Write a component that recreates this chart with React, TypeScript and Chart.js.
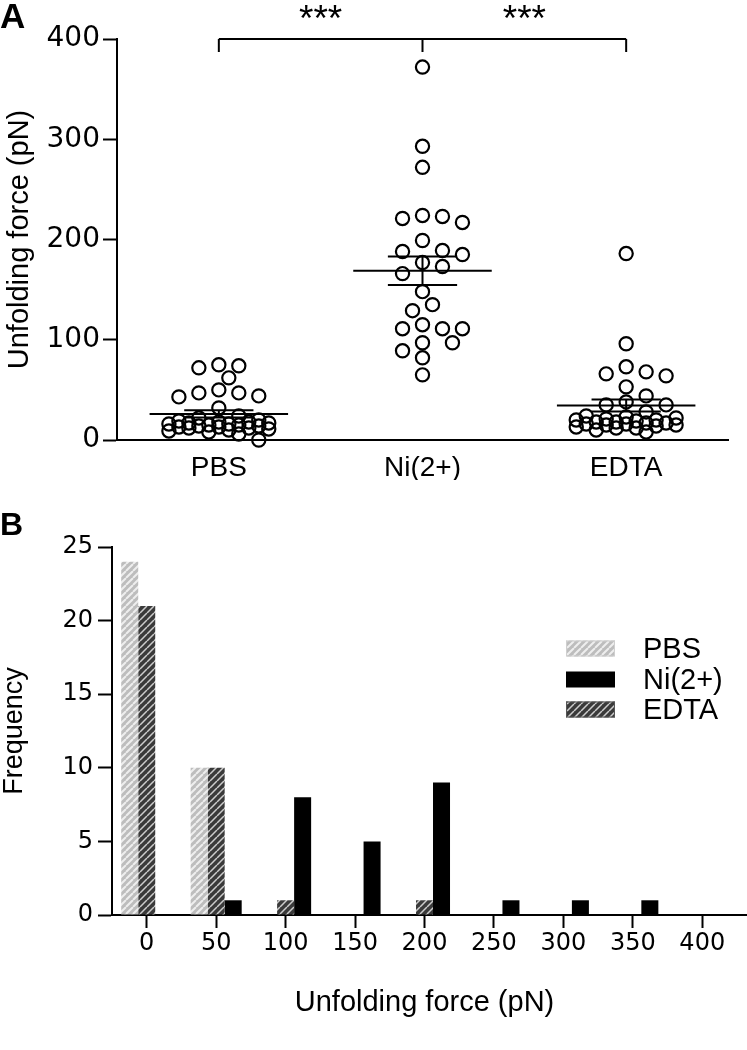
import React, { useEffect, useRef } from "react";
import { Chart, registerables } from "chart.js";
Chart.register(...registerables);

// ---------- data ----------
const groupLabels = ["PBS", "Ni(2+)", "EDTA"];
const pbsForces = [74, 72, 75, 62, 50, 47, 43, 44, 47, 32, 0, 6, 8, 9, 10, 11, 12, 12, 13, 13, 14, 14, 15, 15, 16, 16, 17, 17, 18, 18, 19, 20, 22, 24];
const niForces = [372, 293, 272, 224, 223, 221, 217, 199, 189, 188, 185, 177, 173, 166, 148, 135, 129, 115, 111, 111, 111, 97, 97, 89, 82, 65];
const edtaForces = [186, 96, 73, 68, 66, 64, 53, 44, 38, 35, 35, 28, 24, 23, 22, 21, 20, 20, 19, 18, 18, 17, 17, 16, 16, 15, 15, 14, 13, 12, 12, 10, 8];
const forceTicks = [0, 100, 200, 300, 400];
const sigLabel = "***";

const binLabels = ["0", "50", "100", "150", "200", "250", "300", "350", "400"];
const pbsFreq = [24, 10, 0, 0, 0, 0, 0, 0, 0];
const edtaFreq = [21, 10, 1, 0, 1, 0, 0, 0, 0];
const niFreq = [0, 1, 8, 5, 9, 1, 1, 1, 0];
const legendOrder = ["PBS", "Ni(2+)", "EDTA"];

// ---------- styling ----------
const TXT = "'Liberation Sans', Arial, sans-serif";
const DIG = "'DejaVu Sans', sans-serif";
Chart.defaults.color = "#000";

function mean(a: number[]) {
  return a.reduce((s, v) => s + v, 0) / a.length;
}
function sem(a: number[]) {
  const m = mean(a);
  const sd = Math.sqrt(a.reduce((s, v) => s + (v - m) * (v - m), 0) / (a.length - 1));
  return sd / Math.sqrt(a.length);
}

// greedy beeswarm layout computed from the values
function swarm(values: number[], center: number) {
  const PX_X = 204, PX_Y = 1.0, STEP = 10, D = 15, MAXK = 5;
  const order = values.map((_, i) => i).sort((a, b) => values[b] - values[a]);
  const placed: { k: number; v: number }[] = [];
  const res: { x: number; y: number }[] = new Array(values.length);
  const cands = [0];
  for (let k = 1; k <= MAXK; k++) cands.push(k, -k);
  for (const i of order) {
    const v = values[i];
    let best = 0, bestD = -1;
    for (const k of cands) {
      let minD = Infinity;
      for (const p of placed) {
        const d = Math.hypot((p.k - k) * STEP, (p.v - v) * PX_Y);
        if (d < minD) minD = d;
      }
      if (minD >= D) { best = k; break; }
      if (minD > bestD) { bestD = minD; best = k; }
    }
    placed.push({ k: best, v });
    res[i] = { x: center + (best * STEP) / PX_X, y: v };
  }
  return res;
}

function makeHatch(ctx: CanvasRenderingContext2D, base: string, stripe: string, lw: number) {
  const c = document.createElement("canvas");
  const s = 7;
  c.width = s; c.height = s;
  const g = c.getContext("2d")!;
  g.fillStyle = base;
  g.fillRect(0, 0, s, s);
  g.strokeStyle = stripe;
  g.lineWidth = lw;
  g.beginPath();
  for (const o of [-s, 0, s]) { g.moveTo(o, s); g.lineTo(o + s, 0); }
  g.stroke();
  return ctx.createPattern(c, "repeat")!;
}

const groups = [pbsForces, niForces, edtaForces];

const extrasA = {
  id: "extrasA",
  afterDraw(chart: any) {
    const { ctx } = chart;
    const x = chart.scales.x, y = chart.scales.y;
    ctx.save();
    ctx.strokeStyle = "#000";
    ctx.lineWidth = 2;
    const seg = (x1: number, y1: number, x2: number, y2: number) => {
      ctx.beginPath(); ctx.moveTo(x1, y1); ctx.lineTo(x2, y2); ctx.stroke();
    };
    groups.forEach((vals, i) => {
      const c = i + 1;
      const m = mean(vals), se = sem(vals);
      const ym = y.getPixelForValue(m), yu = y.getPixelForValue(m + se), yl = y.getPixelForValue(m - se);
      seg(x.getPixelForValue(c - 0.34), ym, x.getPixelForValue(c + 0.34), ym);
      seg(x.getPixelForValue(c - 0.17), yu, x.getPixelForValue(c + 0.17), yu);
      seg(x.getPixelForValue(c - 0.17), yl, x.getPixelForValue(c + 0.17), yl);
      seg(x.getPixelForValue(c), yu, x.getPixelForValue(c), yl);
    });
    // significance bracket
    const yb = y.getPixelForValue(400);
    seg(x.getPixelForValue(1), yb, x.getPixelForValue(3), yb);
    [1, 2, 3].forEach((c) => seg(x.getPixelForValue(c), yb, x.getPixelForValue(c), yb + 13));
    ctx.fillStyle = "#000";
    ctx.font = `37px ${TXT}`;
    ctx.textAlign = "center";
    ctx.textBaseline = "alphabetic";
    ctx.fillText(sigLabel, x.getPixelForValue(1.5), 31);
    ctx.fillText(sigLabel, x.getPixelForValue(2.5), 31);
    // panel letter
    ctx.textAlign = "left";
    ctx.font = `bold 35px ${TXT}`;
    ctx.fillText("A", 0, 28);
    ctx.restore();
  },
};

function makeExtrasB(hLight: CanvasPattern, hDark: CanvasPattern) {
  return {
    id: "extrasB",
    afterDraw(chart: any) {
      const { ctx } = chart;
      const x = chart.scales.x;
      ctx.save();
      ctx.strokeStyle = "#000";
      ctx.lineWidth = 2;
      const yAxis = Math.round(x.top);
      ctx.beginPath(); ctx.moveTo(x.right - 1, yAxis); ctx.lineTo(747, yAxis); ctx.stroke();
      // legend
      const styles: Record<string, { fill: any; stroke?: string }> = {
        "PBS": { fill: hLight, stroke: "#cfcfcf" },
        "Ni(2+)": { fill: "#000" },
        "EDTA": { fill: hDark, stroke: "#555" },
      };
      const rowY = [168.5, 199.5, 229.5];
      ctx.font = `29px ${TXT}`;
      ctx.textBaseline = "middle";
      ctx.textAlign = "left";
      legendOrder.forEach((lab, i) => {
        const st = styles[lab];
        ctx.fillStyle = st.fill;
        ctx.fillRect(566, rowY[i] - 8, 49, 16);
        if (st.stroke) {
          ctx.strokeStyle = st.stroke; ctx.lineWidth = 1;
          ctx.strokeRect(566.5, rowY[i] - 7.5, 48, 15);
        }
        ctx.fillStyle = "#000";
        ctx.fillText(lab, 643, rowY[i] + 1);
      });
      ctx.textBaseline = "alphabetic";
      ctx.font = `bold 32px ${TXT}`;
      ctx.fillText("B", 0, 55);
      ctx.restore();
    },
  };
}

export default function App() {
  const refA = useRef<HTMLCanvasElement>(null);
  const refB = useRef<HTMLCanvasElement>(null);

  useEffect(() => {
    const ptStyle = {
      pointStyle: "circle",
      pointRadius: 6.6,
      pointBorderWidth: 2.2,
      pointBorderColor: "#000",
      pointBackgroundColor: "rgba(0,0,0,0)",
      showLine: false,
      clip: false as any,
    };
    const chartA = new Chart(refA.current!, {
      type: "scatter",
      data: {
        datasets: groups.map((vals, i) => ({
          label: groupLabels[i],
          data: swarm(vals, i + 1),
          ...ptStyle,
        })) as any,
      },
      options: {
        animation: false,
        responsive: false,
        maintainAspectRatio: false,
        layout: { padding: { top: 39, right: 19, left: 0, bottom: 0 } },
        plugins: { legend: { display: false }, tooltip: { enabled: false } },
        scales: {
          x: {
            type: "linear",
            min: 0.5,
            max: 3.5,
            afterBuildTicks: (s: any) => { s.ticks = [1, 2, 3].map((v) => ({ value: v })); },
            afterFit: (s: any) => { s.height = 40; },
            ticks: {
              callback: (v: any) => groupLabels[Number(v) - 1] ?? "",
              font: { family: TXT, size: 28 },
              color: "#000",
              padding: 11,
              maxRotation: 0,
              autoSkip: false,
            },
            grid: { display: false, drawTicks: false },
            border: { display: true, color: "#000", width: 2 },
          },
          y: {
            type: "linear",
            min: 0,
            max: 400,
            afterBuildTicks: (s: any) => { s.ticks = forceTicks.map((v) => ({ value: v })); },
            afterFit: (s: any) => { s.width = 117; },
            ticks: { font: { family: DIG, size: 28 }, color: "#000", padding: 3 },
            grid: { drawOnChartArea: false, drawTicks: true, tickLength: 14, tickWidth: 2, tickColor: "#000" },
            border: { display: true, color: "#000", width: 2 },
            title: {
              display: true,
              text: "Unfolding force (pN)",
              font: { family: TXT, size: 29 },
              color: "#000",
              padding: 3,
            },
          },
        },
      } as any,
      plugins: [extrasA],
    });

    const ctxB = refB.current!.getContext("2d")!;
    const hLight = makeHatch(ctxB, "#bdbdbd", "#eeeeee", 2);
    const hDark = makeHatch(ctxB, "#3a3a3a", "#cccccc", 1.5);

    const chartB = new Chart(refB.current!, {
      type: "bar",
      data: {
        labels: binLabels,
        datasets: [
          { label: "PBS", data: pbsFreq, backgroundColor: hLight as any },
          { label: "EDTA", data: edtaFreq, backgroundColor: hDark as any },
          { label: "Ni(2+)", data: niFreq, backgroundColor: "#000" },
        ],
      },
      options: {
        animation: false,
        responsive: false,
        maintainAspectRatio: false,
        datasets: { bar: { categoryPercentage: 0.735, barPercentage: 1 } },
        layout: { padding: { top: 67, right: 10, left: 0, bottom: 0 } },
        plugins: { legend: { display: false }, tooltip: { enabled: false } },
        scales: {
          x: {
            afterFit: (s: any) => { s.height = 135; },
            ticks: { font: { family: DIG, size: 24 }, color: "#000", padding: 1, maxRotation: 0, autoSkip: false },
            grid: { display: true, drawOnChartArea: false, offset: false, drawTicks: true, tickLength: 13, tickWidth: 2, tickColor: "#000" },
            border: { display: true, color: "#000", width: 2 },
            title: {
              display: true,
              text: "Unfolding force (pN)",
              font: { family: TXT, size: 29 },
              color: "#000",
              padding: { top: 0, bottom: 30 },
            },
          },
          y: {
            min: 0,
            max: 25,
            afterFit: (s: any) => { s.width = 112; },
            ticks: { stepSize: 5, font: { family: DIG, size: 24 }, color: "#000", padding: 5 },
            grid: { drawOnChartArea: false, drawTicks: true, tickLength: 14, tickWidth: 2, tickColor: "#000" },
            border: { display: true, color: "#000", width: 2 },
            title: {
              display: true,
              text: "Frequency",
              font: { family: TXT, size: 27, lineHeight: 1.05 },
              color: "#000",
              padding: 0,
            },
          },
        },
      } as any,
      plugins: [makeExtrasB(hLight, hDark)],
    });

    return () => {
      chartA.destroy();
      chartB.destroy();
    };
  }, []);

  return (
    <div style={{ position: "absolute", left: 0, top: 0, width: 747, height: 1050, background: "#fff" }}>
      <canvas ref={refA} width={747} height={480} style={{ position: "absolute", left: 0, top: 0, display: "block" }} />
      <canvas ref={refB} width={747} height={570} style={{ position: "absolute", left: 0, top: 480, display: "block" }} />
    </div>
  );
}
